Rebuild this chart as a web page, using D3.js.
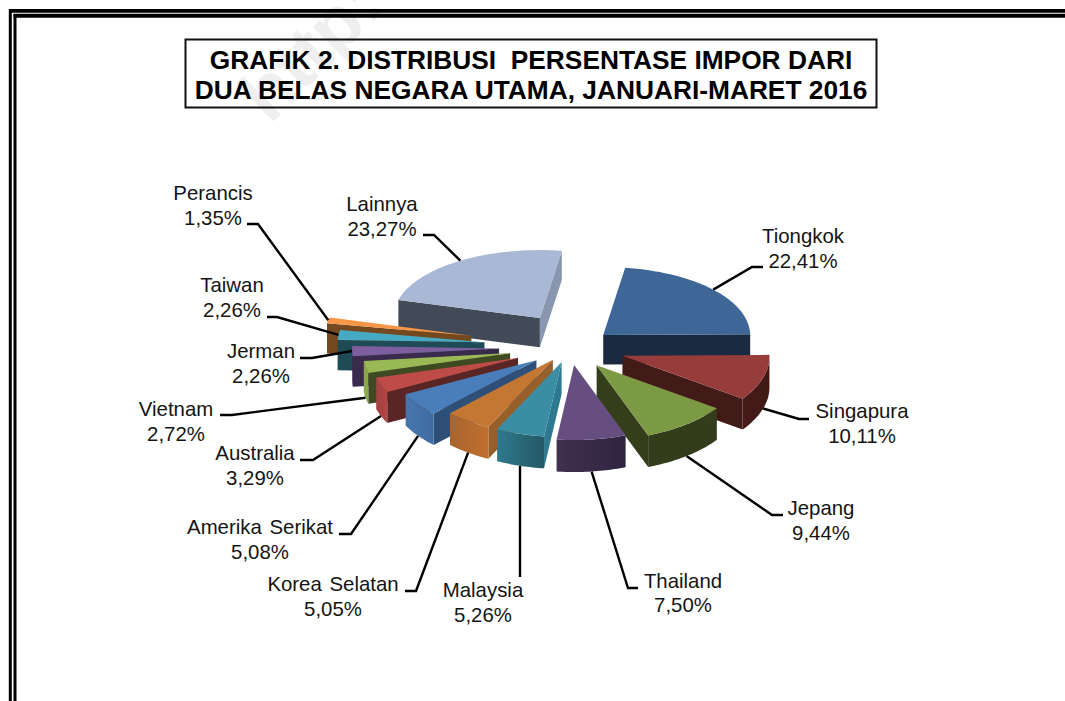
<!DOCTYPE html>
<html>
<head>
<meta charset="utf-8">
<style>
  html, body { margin: 0; padding: 0; background: #fff; }
  svg { display: block; }
  text { font-family: "Liberation Sans", Arial, sans-serif; }
</style>
</head>
<body>
<svg id="chart" width="1065" height="701"></svg>
<script src="https://cdn.jsdelivr.net/npm/d3@7"></script>
<script>
var countries = ["Tiongkok","Singapura","Jepang","Thailand","Malaysia","Korea Selatan","Amerika Serikat","Australia","Vietnam","Jerman","Taiwan","Perancis","Lainnya"];
var shares = [22.41,10.11,9.44,7.50,5.26,5.05,5.08,3.29,2.72,2.26,2.26,1.35,23.27];
var titleLines = ["GRAFIK 2. DISTRIBUSI  PERSENTASE IMPOR DARI","DUA BELAS NEGARA UTAMA, JANUARI-MARET 2016"];

// how far each slice is pulled out of the pie
var explode = [44,55,44,35,30,30,42,56,61,71,86,101,55];
var lift = [3,0,0,0,0,0,0,0,0,0,0,0,-5];

var topColors = ["#3e6797","#963c3b","#7c9944","#664e80","#3a8da3","#c47633","#4a7ebb","#be4b48","#98b954","#7d5fa0","#46aac5","#f79646","#a9b8d5"];
var startSide = ["#1a2a40","#421a18","#353e1b","#34264a","#2d7a90","#97602a","#2d4f78","#5a2625","#3f4a22","#3a2a4c","#1f4b57","#75491f","#434a57"];
var endSide = ["#1a2a40","#421a18","#353e1b","#34264a","#2d7a90","#97602a","#2d4f78","#5a2625","#3f4a22","#3a2a4c","#1f4b57","#75491f","#8996b0"];
var rimStart = ["#1a2a40","#401917","#333d1b","#2f2540","#245865","#c07030","#3f6ca1","#b04745","#8aa84c","#362748","#1f4b57","#75491f","#434a57"];
var rimEnd = ["#1a2a40","#451b19","#333d1b","#41304f","#2f7a8d","#a8642c","#4776ae","#a34140","#8aa84c","#362748","#1f4b57","#75491f","#434a57"];

// label centre, baselines, and the leader's stub: [labelX, line1Y, line2Y, stubEndX, elbowX, stubY]
var labelLayout = [
  [803,243,268,763,752,267],
  [862,418,443,809,799,419],
  [821,515,540,783,772,515],
  [683,588,612,638,628,588],
  [483,597,622,520,520,577],
  [333,591,616,405,416,591],
  [260,534,559,339,351,534],
  [255,460,485,300,313,460],
  [176,416,441,220,232,415],
  [261,358,383,300,312,358],
  [232,292,317,267,277,317],
  [213,200,225,247,258,224],
  [382,211,236,423,434,235]
];

var cx = 570, cy = 347, tilt = 0.52;
var startDeg = 8.7;
// front of the pie is a little larger than the back
var rxScale = d3.scaleLinear().domain([-1, 1]).range([149, 145]);
var ryScale = d3.scaleLinear().domain([-1, 1]).range([75, 68]);
var depthScale = d3.scaleLinear().domain([-1, 1]).range([32, 29]);
var fmt = d3.formatLocale({decimal: ",", thousands: ".", grouping: [3], currency: ["", ""]}).format(".2f");

var svg = d3.select("#chart");
var defs = svg.append("defs");

// watermark
svg.append("text")
  .attr("transform", "translate(270,125)rotate(-45)")
  .attr("font-size", 74)
  .attr("font-weight", "bold")
  .attr("fill", "#efefef")
  .text("http:");

// double page frame, open on the right and at the bottom
var frame = svg.append("g").attr("stroke", "#000");
frame.append("line").attr("x1", 10.3).attr("x2", 10.3).attr("y1", 9).attr("y2", 701).attr("stroke-width", 3);
frame.append("line").attr("x1", 15).attr("x2", 15).attr("y1", 14).attr("y2", 701).attr("stroke-width", 3);
frame.append("line").attr("x1", 9).attr("x2", 1065).attr("y1", 10.9).attr("y2", 10.9).attr("stroke-width", 3.8);
frame.append("line").attr("x1", 13.5).attr("x2", 1065).attr("y1", 15.8).attr("y2", 15.8).attr("stroke-width", 4);

// title
svg.append("rect")
  .attr("x", 185.5).attr("y", 39.5).attr("width", 691).attr("height", 68)
  .attr("fill", "none").attr("stroke", "#111").attr("stroke-width", 2);
svg.selectAll(".title").data(titleLines).enter().append("text")
  .attr("class", "title")
  .attr("x", 531)
  .attr("y", function(d, i) { return 68.5 + i * 30; })
  .attr("text-anchor", "middle")
  .attr("font-size", 26.3)
  .attr("font-weight", "bold")
  .attr("fill", "#000")
  .style("white-space", "pre")
  .text(function(d) { return d; });

var pie = d3.pie().sort(null)
  .startAngle(startDeg * Math.PI / 180)
  .endAngle(startDeg * Math.PI / 180 + 2 * Math.PI);

var slices = pie(shares).map(function(d, i) {
  var mid = (d.startAngle + d.endAngle) / 2;
  return {
    i: i,
    a0: d.startAngle,
    a1: d.endAngle,
    mid: mid,
    ox: cx + explode[i] * Math.sin(mid),
    oy: cy - tilt * explode[i] * Math.cos(mid) + lift[i],
    depth: depthScale(Math.cos(mid))
  };
});

function rimPoint(s, a) {
  var c = Math.cos(a);
  return [s.ox + rxScale(c) * Math.sin(a), s.oy - ryScale(c) * c];
}

function down(p, h) {
  return [p[0], p[1] + h];
}

var line = d3.line();

function arcPoints(s, a0, a1) {
  var n = Math.max(2, Math.ceil((a1 - a0) / 0.02));
  return d3.range(n + 1).map(function(k) {
    return rimPoint(s, a0 + (a1 - a0) * k / n);
  });
}

// back slices first so the front ones overlap them
var order = slices.slice().sort(function(a, b) {
  return d3.descending(Math.abs(a.mid - Math.PI), Math.abs(b.mid - Math.PI));
});

var pieG = svg.append("g");

order.forEach(function(s) {
  var g = pieG.append("g");
  var apex = [s.ox, s.oy];
  var h = s.depth;

  // radial walls, only where they face the viewer
  if (Math.sin(s.a0) < 0) {
    var p0 = rimPoint(s, s.a0);
    g.append("path").attr("fill", startSide[s.i])
      .attr("d", line([apex, p0, down(p0, h), down(apex, h)]) + "Z");
  }
  if (Math.sin(s.a1) > 0) {
    var p1 = rimPoint(s, s.a1);
    g.append("path").attr("fill", endSide[s.i])
      .attr("d", line([apex, p1, down(p1, h), down(apex, h)]) + "Z");
  }

  // outer wall, with the shade running along it
  var from = Math.max(s.a0, Math.PI / 2), to = Math.min(s.a1, Math.PI * 1.5);
  if (to > from) {
    var pts = arcPoints(s, from, to);
    var id = "rim" + s.i;
    var grad = defs.append("linearGradient").attr("id", id)
      .attr("gradientUnits", "userSpaceOnUse")
      .attr("x1", pts[0][0]).attr("y1", 0)
      .attr("x2", pts[pts.length - 1][0]).attr("y2", 0);
    grad.append("stop").attr("offset", 0).attr("stop-color", rimStart[s.i]);
    grad.append("stop").attr("offset", 1).attr("stop-color", rimEnd[s.i]);
    var lower = pts.slice().reverse().map(function(p) { return down(p, h); });
    g.append("path").attr("fill", "url(#" + id + ")")
      .attr("d", line(pts.concat(lower)) + "Z");
  }

  // top face
  g.append("path").attr("fill", topColors[s.i])
    .attr("d", line([apex].concat(arcPoints(s, s.a0, s.a1))) + "Z");
});

// leader lines, from the slice edge at its middle angle out to the label
var leaders = svg.append("g").attr("fill", "none").attr("stroke", "#000").attr("stroke-width", 2.4);
slices.forEach(function(s) {
  var lay = labelLayout[s.i];
  var from = rimPoint(s, s.mid);
  if (Math.cos(s.mid) < -0.1) { from = down(from, s.depth); }
  leaders.append("path")
    .attr("d", line([from, [lay[4], lay[5]], [lay[3], lay[5]]]));
});

// labels
var labels = svg.append("g").attr("text-anchor", "middle").attr("font-size", 20.4).attr("fill", "#141414");
slices.forEach(function(s) {
  var lay = labelLayout[s.i];
  labels.append("text").attr("x", lay[0]).attr("y", lay[1])
    .attr("word-spacing", 2).text(countries[s.i]);
  labels.append("text").attr("x", lay[0]).attr("y", lay[2])
    .text(fmt(shares[s.i]) + "%");
});
</script>
</body>
</html>
